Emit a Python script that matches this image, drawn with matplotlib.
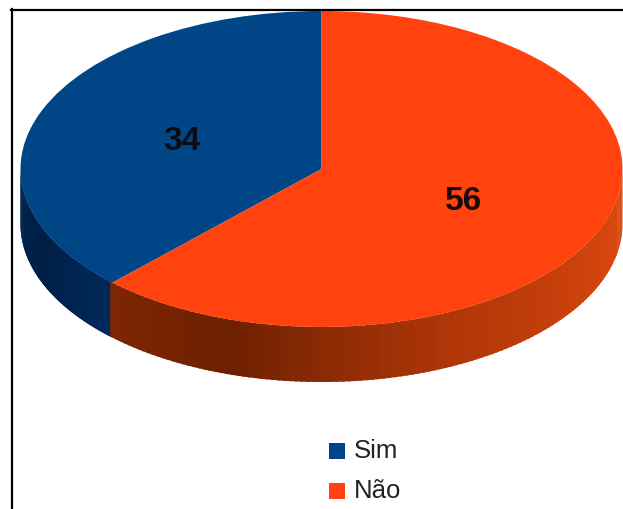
#!/usr/bin/python
#-*- encoding: utf-8 -*-
import numpy as np
import matplotlib
matplotlib.use('Agg')
import matplotlib.pyplot as plt
from matplotlib.patches import Rectangle, Polygon
from matplotlib.colors import LinearSegmentedColormap

labels = ['Sim', 'Não']
values = [34, 56]
colors = ['#004586', '#ff420e']

W, H = 623, 510
CX, CY = 321.5, 170   # pie centre in pixels
RX, RY = 301, 158
DEPTH = 55.0 / RY   # height of the rim, in pie units

fig = plt.figure(figsize=(W / 100, H / 100), dpi=100)
ax = fig.add_axes([0, 0, 1, 1])

wedges, _ = ax.pie(values, colors=colors, startangle=90, radius=1, center=(0, 0),
                   wedgeprops={'linewidth': 0, 'zorder': 5}, frame=True)
ax.set_aspect('auto')
ax.set_xlim(-CX / RX, (W - CX) / RX)
ax.set_ylim(-(H - CY) / RY, CY / RY)
ax.axis('off')

# rim shading, dark on the lower left and lighter to the right
rim_maps = [
    LinearSegmentedColormap.from_list('b', ['#00295c', '#001f45', '#00234f']),
    LinearSegmentedColormap.from_list('o', [(0, '#dc4a10'), (.16, '#d4450d'), (.48, '#b03608'),
                                            (.67, '#8a2a04'), (.8, '#6e2000'), (1, '#7e2603')]),
]
for w, cmap in zip(wedges, rim_maps):
    # only the part of the wedge on the front of the pie has a visible rim
    lo = max(w.theta1, 180)
    hi = min(w.theta2, 360)
    if w.theta2 > 360:
        lo, hi = w.theta1 % 360, 360
    steps = np.linspace(hi, lo, 120)
    for i in range(len(steps) - 1):
        a0, a1 = np.radians(steps[i]), np.radians(steps[i + 1] - 0.6)
        xs = [np.cos(a0), np.cos(a1), np.cos(a1), np.cos(a0)]
        ys = [np.sin(a0), np.sin(a1), np.sin(a1) - DEPTH, np.sin(a0) - DEPTH]
        ax.add_patch(Polygon(np.c_[xs, ys], closed=True, facecolor=cmap(i / 119),
                             edgecolor='none', zorder=3))

# value labels
ax.text((182 - CX) / RX, (CY - 141) / RY, str(values[0]), fontsize=24, fontweight='bold',
        family='Liberation Sans', color='#0c0c14', ha='center', va='center', zorder=6)
ax.text((464 - CX) / RX, (CY - 202) / RY, str(values[1]), fontsize=24, fontweight='bold',
        family='Liberation Sans', color='#1a0a08', ha='center', va='center', zorder=6)

# legend
for lab, col, y in zip(labels, colors, [451.5, 491.5]):
    fig.add_artist(Rectangle((329 / W, 1 - (y + 8) / H), 16 / W, 16 / H, transform=fig.transFigure,
                             facecolor=col, edgecolor='none'))
    fig.text(354 / W, 1 - y / H, lab, fontsize=18.5, family='Liberation Sans', color='#222222',
             ha='left', va='center')

# frame around the picture
fig.add_artist(plt.Line2D([12 / W, 12 / W], [0, 1 - 10 / H], color='black', lw=1.6))
fig.add_artist(plt.Line2D([11 / W, 1], [1 - 10.5 / H, 1 - 10.5 / H], color='black', lw=1.6))

fig.savefig('out.png', dpi=100, facecolor='white')
